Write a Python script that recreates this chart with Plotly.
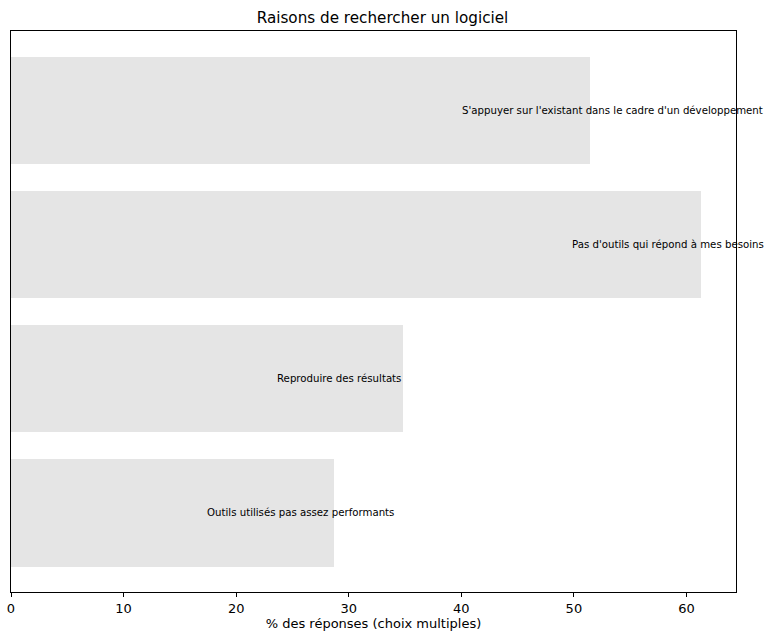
import plotly.graph_objects as go

categories = [
    "Outils utilisés pas assez performants",
    "Reproduire des résultats",
    "Pas d'outils qui répond à mes besoins",
    "S'appuyer sur l'existant dans le cadre d'un développement",
]
values = [28.7, 34.8, 61.3, 51.4]

# label anchor (text center) positions in data units, layout only
label_centers = [25.7, 29.1, 58.4, 53.4]

fig = go.Figure()
fig.add_trace(go.Bar(
    x=values,
    y=list(range(len(categories))),
    orientation="h",
    width=0.8,
    marker=dict(color="#e5e5e5", line=dict(width=0)),
    hoverinfo="skip",
    showlegend=False,
))

for i, (cat, cx) in enumerate(zip(categories, label_centers)):
    fig.add_annotation(
        x=cx, y=i, xref="x", yref="y", text=cat, showarrow=False,
        xanchor="center", yanchor="middle",
        font=dict(family="DejaVu Sans", size=10.2, color="black"),
    )

fig.update_layout(
    width=765, height=631,
    margin=dict(l=11, r=29, t=31, b=39),
    paper_bgcolor="white", plot_bgcolor="white",
    title=dict(text="Raisons de rechercher un logiciel", x=0.5, xanchor="center",
               y=1 - 18 / 631, yanchor="middle",
               font=dict(family="DejaVu Sans", size=15.2, color="black")),
    font=dict(family="DejaVu Sans", color="black"),
    bargap=0,
)
fig.update_xaxes(
    range=[0, 64.4], tickvals=[0, 10, 20, 30, 40, 50, 60],
    ticks="outside", ticklen=4, tickwidth=1, tickcolor="black",
    tickfont=dict(size=13, family="DejaVu Sans"),
    showgrid=False, zeroline=False, automargin=False,
    showline=True, linecolor="black", linewidth=1, mirror=True,
    title=dict(text="% des réponses (choix multiples)", standoff=4,
               font=dict(size=13, family="DejaVu Sans")),
)
fig.update_yaxes(
    range=[-0.59, 3.59], showticklabels=False, ticks="",
    showgrid=False, zeroline=False, automargin=False,
    showline=True, linecolor="black", linewidth=1, mirror=True,
)

fig.write_html(
    "out.html",
    config={"displayModeBar": False},
    post_script="document.body.style.margin='0';document.body.style.overflow='hidden';",
)
